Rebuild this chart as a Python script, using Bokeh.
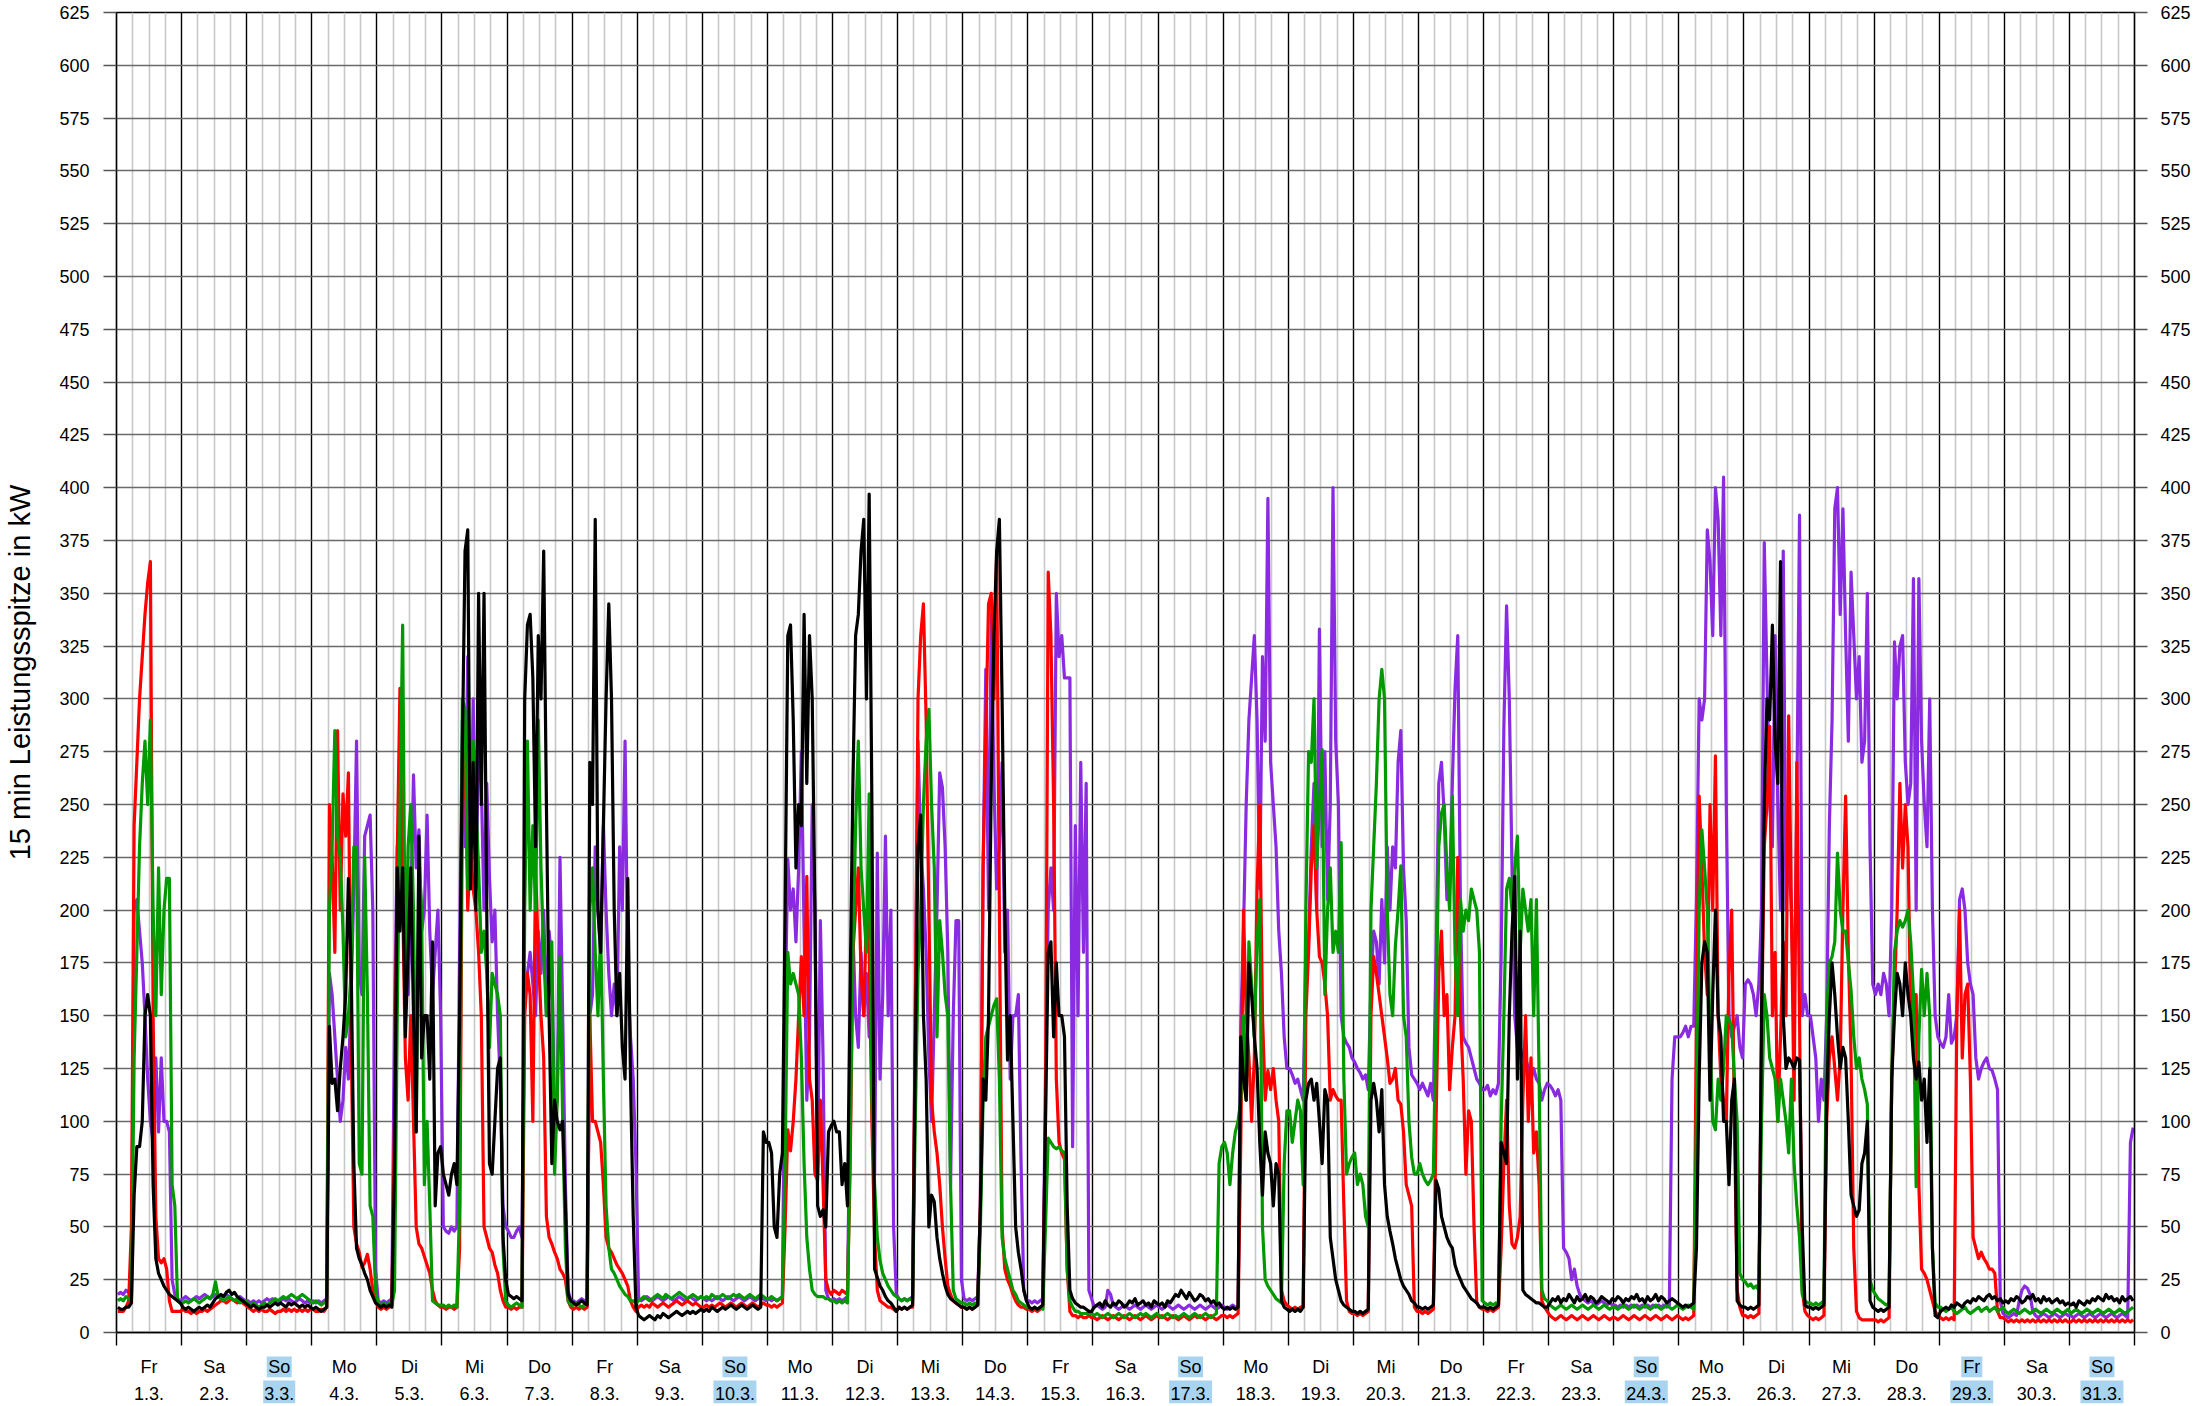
from bokeh.plotting import figure
from bokeh.layouts import column
from bokeh.models import Range1d, FixedTicker, LinearAxis, Grid
from bokeh.core.properties import value
from bokeh.embed import file_html
from bokeh.resources import INLINE

weekdays = ["Fr", "Sa", "So", "Mo", "Di", "Mi", "Do", "Fr", "Sa", "So", "Mo", "Di", "Mi", "Do", "Fr", "Sa",
            "So", "Mo", "Di", "Mi", "Do", "Fr", "Sa", "So", "Mo", "Di", "Mi", "Do", "Fr", "Sa", "So"]
dates = [f"{d}.3." for d in range(1, 32)]
highlighted = [3, 10, 17, 24, 29, 31]
y_ticks = list(range(0, 626, 25))

red_kw = [
    [10,10,10,12,15,50,240,270,300,320,340,355,365,150,55,35,33,35,30,15,10,10,10,10],
    [11,10,10,9,10,9,10,10,11,10,11,12,13,14,15,15,14,15,16,15,14,15,14,13],
    [12,11,10,11,10,11,10,10,11,10,9,10,10,11,10,11,10,11,10,11,10,11,10,11],
    [11,10,10,11,10,12,250,225,180,285,200,255,235,265,140,50,42,38,31,33,37,30,20,15],
    [12,11,12,11,12,13,100,225,305,205,130,110,150,100,50,42,40,36,32,28,20,15,13,12],
    [12,11,12,12,11,12,40,250,280,200,230,210,200,180,150,50,45,40,38,32,28,20,15,12],
    [12,11,12,11,12,12,150,170,160,100,220,180,150,130,55,45,42,38,35,30,28,25,15,12],
    [11,12,11,12,11,12,150,100,100,95,90,70,45,40,38,35,32,30,28,25,22,15,12,10],
    [12,13,12,13,12,14,13,12,13,14,13,12,13,14,15,14,13,14,15,14,13,14,13,12],
    [12,13,12,13,12,13,14,13,12,13,14,13,12,13,14,13,12,13,14,13,12,13,14,13],
    [13,12,13,12,13,14,50,96,86,100,120,150,178,150,216,120,110,75,72,110,70,25,20,18],
    [20,19,18,20,19,18,80,180,200,220,170,150,200,180,100,45,20,15,14,13,12,12,11,10],
    [12,11,12,11,12,12,150,300,330,345,290,200,110,95,85,70,50,35,22,18,15,14,13,12],
    [12,11,12,11,12,13,60,220,285,345,350,300,370,200,50,30,25,22,18,15,13,12,12,11],
    [11,10,11,10,11,12,100,360,330,250,120,90,85,82,30,10,8,8,7,8,7,7,8,7],
    [7,6,7,8,7,6,7,8,7,6,7,8,7,6,7,8,7,6,7,8,7,6,7,8],
    [7,8,7,6,7,8,7,6,7,8,7,6,7,8,7,8,7,6,7,8,7,6,7,8],
    [8,7,8,7,8,9,90,200,150,130,100,130,210,250,150,110,124,115,125,110,100,20,15,13],
    [12,11,12,11,12,12,150,180,220,240,200,178,175,165,150,110,115,112,110,110,60,15,10,9],
    [9,8,9,8,9,10,150,178,170,160,150,140,130,118,120,125,110,108,95,70,65,60,12,10],
    [10,9,10,9,10,11,100,170,190,150,160,115,135,150,225,150,120,75,105,100,50,14,12,11],
    [11,10,11,10,11,12,40,80,110,60,42,40,45,55,110,150,100,130,85,95,70,15,12,10],
    [8,7,6,7,8,7,6,7,8,7,6,7,8,7,6,7,8,7,6,7,8,7,6,7],
    [7,6,7,8,7,6,7,8,7,6,7,8,7,6,7,8,7,6,7,8,7,6,7,8],
    [7,6,7,6,7,8,150,254,220,180,160,250,200,273,150,120,110,100,170,200,100,20,12,8],
    [8,7,8,7,8,9,140,230,250,287,150,180,100,140,185,150,292,200,110,270,150,20,10,8],
    [7,6,7,6,7,8,100,130,140,125,110,130,200,254,180,130,40,10,7,6,6,6,6,6],
    [6,5,6,5,6,7,120,160,200,260,220,250,230,150,150,160,70,30,28,25,20,15,10,8],
    [7,6,7,6,7,6,150,200,130,160,165,120,45,40,35,38,35,33,30,30,28,10,7,7],
    [6,5,6,5,6,5,6,5,6,5,6,5,6,5,6,5,6,5,6,5,6,5,6,5],
    [5,6,5,6,5,6,5,6,5,6,5,6,5,6,5,6,5,6,5,6,5,6,5,6],
]

green_kw = [
    [15,16,15,17,16,15,130,180,230,260,280,250,290,200,150,220,160,200,215,215,70,60,15,14],
    [14,15,14,15,16,15,14,15,16,17,16,18,24,17,16,15,16,17,16,15,16,14,15,15],
    [14,13,14,13,12,13,14,13,14,15,16,15,16,17,16,17,18,17,16,17,18,17,16,15],
    [14,15,14,13,14,15,200,230,285,235,225,190,140,150,170,230,230,80,75,225,160,60,55,20],
    [14,13,14,13,14,13,20,150,245,335,160,230,250,200,95,225,200,70,100,60,15,14,13,13],
    [13,12,13,12,13,12,60,300,295,210,240,280,250,220,180,190,170,135,170,165,160,150,40,15],
    [13,12,13,14,13,12,200,280,200,240,200,290,220,180,150,160,185,75,110,178,100,40,15,13],
    [13,14,13,12,13,14,200,220,180,150,190,120,60,40,30,28,25,22,20,18,17,15,15,14],
    [15,16,17,16,15,16,17,18,17,16,18,17,16,17,18,19,18,17,16,17,18,17,16,17],
    [16,17,16,18,17,16,17,18,17,16,17,18,17,18,17,16,17,18,17,16,17,18,17,16],
    [16,17,16,15,16,17,80,180,165,170,165,160,130,80,45,30,20,18,17,17,17,16,16,15],
    [15,14,15,14,15,14,90,180,240,280,220,200,180,255,110,70,45,34,28,25,22,20,18,17],
    [16,15,16,15,16,15,100,170,200,250,280,295,250,220,140,195,180,160,150,70,20,16,15,14],
    [14,13,14,13,14,13,50,110,140,145,150,155,158,120,45,35,30,25,20,18,15,14,13,12],
    [12,11,12,11,12,11,50,92,90,88,87,88,86,85,30,15,12,10,10,9,9,9,9,9],
    [8,9,8,7,8,9,8,7,8,9,8,7,8,9,8,7,8,9,8,9,8,7,8,9],
    [8,7,8,9,8,7,8,7,8,9,8,7,8,9,8,7,8,9,8,7,8,9,80,88],
    [90,85,70,85,95,100,110,150,110,185,165,140,185,205,50,25,22,20,18,16,15,14,80,105],
    [105,90,100,110,105,70,200,275,270,300,220,250,276,160,200,220,180,190,180,232,120,75,80,83],
    [85,70,75,70,55,50,200,230,260,300,314,300,200,160,150,183,200,221,150,140,100,83,75,75],
    [80,75,72,70,72,75,150,230,246,250,220,200,254,180,150,205,190,200,195,210,205,200,180,15],
    [14,13,14,13,14,13,100,150,210,215,200,220,235,180,210,200,190,205,150,205,120,20,16,15],
    [13,12,11,12,13,12,11,12,13,12,11,12,13,12,11,12,13,12,11,12,13,12,11,12],
    [12,11,12,13,12,11,12,13,12,11,12,13,12,11,12,13,12,11,12,13,12,11,12,13],
    [12,11,12,13,12,11,100,200,238,220,200,140,100,96,120,110,125,150,148,145,120,100,28,25],
    [24,22,23,21,22,20,100,160,150,130,125,120,100,120,110,100,85,120,80,60,45,18,15,14],
    [14,13,14,13,14,15,150,175,178,185,227,200,190,190,175,162,140,125,130,120,115,108,25,20],
    [18,16,15,14,13,14,120,180,190,195,192,195,200,185,160,69,140,172,150,170,150,40,14,12],
    [12,11,10,11,12,10,9,10,11,12,10,9,10,11,12,10,11,12,10,11,12,10,11,12],
    [10,9,10,11,10,9,10,11,10,9,10,11,10,9,10,11,10,9,10,11,10,9,10,11],
    [9,10,11,10,9,10,11,10,9,10,11,10,9,10,11,10,9,10,11,10,9,10,11,12],
]

purple_kw = [
    [18,19,18,20,19,18,200,205,190,175,150,120,100,90,130,95,130,100,100,95,25,18,16,15],
    [16,17,16,15,16,17,16,17,18,17,16,17,18,17,16,17,18,17,16,15,16,17,16,15],
    [15,14,15,14,15,14,15,16,15,16,15,14,15,16,15,16,15,14,15,16,15,14,15,14],
    [15,14,15,14,15,16,170,160,140,120,100,110,135,120,160,210,280,170,160,235,240,245,200,30],
    [15,14,15,14,15,16,150,230,240,200,180,160,200,264,220,238,190,200,245,190,160,180,200,150],
    [50,48,47,50,48,50,180,290,230,320,220,300,210,280,260,200,260,215,185,200,150,118,60,50],
    [48,45,45,48,50,45,160,170,180,165,150,190,170,200,150,190,175,100,110,225,150,70,20,15],
    [15,14,15,16,15,14,150,160,230,200,180,240,200,170,150,165,150,230,200,280,170,140,120,80],
    [16,15,16,17,16,15,16,17,16,15,16,17,16,15,16,17,16,15,16,17,16,15,16,17],
    [16,15,16,15,16,17,16,15,16,17,16,15,16,17,16,15,16,17,16,15,16,17,16,15],
    [16,15,16,15,16,17,150,224,200,210,185,220,275,190,110,140,250,200,75,195,130,20,16,15],
    [16,15,16,15,16,17,120,190,150,135,180,150,170,140,150,75,227,120,160,235,150,200,50,18],
    [16,15,16,15,16,17,150,280,230,210,180,130,100,150,200,265,258,230,180,70,150,195,195,25],
    [16,15,16,15,16,17,60,220,314,200,340,260,210,230,270,180,200,120,150,150,160,80,20,15],
    [15,14,15,14,15,16,120,200,220,200,350,320,330,310,310,310,88,240,150,270,180,260,20,16],
    [12,13,12,11,12,20,18,13,12,11,12,13,12,11,12,13,12,11,12,13,12,11,12,13],
    [12,11,12,13,12,11,12,13,12,11,12,13,12,11,12,13,12,11,12,13,12,11,12,13],
    [12,11,12,13,12,12,145,190,250,290,310,330,290,210,320,280,395,270,250,230,190,170,140,125],
    [125,122,118,120,115,110,180,186,230,260,200,333,230,275,205,250,400,280,250,150,140,137,135,130],
    [128,125,123,120,122,115,165,190,185,165,205,175,230,200,230,220,270,285,220,195,135,122,120,118],
    [115,118,115,112,118,110,178,260,270,245,205,210,260,305,330,200,140,137,135,130,125,120,118,115],
    [115,117,112,115,113,118,178,287,344,300,220,150,135,135,130,130,125,120,125,120,118,110,115,118],
    [117,115,112,115,110,40,38,35,25,30,22,18,16,15,14,15,14,13,14,15,14,13,14,13],
    [13,12,13,12,13,12,13,12,13,12,13,12,13,12,13,12,13,12,13,12,13,120,140,140],
    [140,142,145,140,145,145,205,300,290,300,380,365,330,400,385,330,405,250,150,140,145,150,135,130],
    [165,167,165,160,150,165,200,374,310,250,230,330,250,200,370,200,230,200,150,250,387,150,160,150],
    [150,140,130,100,120,110,150,240,290,390,400,340,390,330,280,360,330,300,320,270,280,350,230,165],
    [160,165,160,170,165,150,200,327,300,325,330,270,250,260,357,200,357,280,250,230,300,200,150,140],
    [137,135,140,160,137,140,150,205,210,200,175,165,160,130,120,125,128,130,125,124,120,115,15,9],
    [8,7,8,9,8,15,20,22,21,18,10,8,7,8,9,8,7,8,9,8,7,8,9,8],
    [8,7,8,9,8,7,8,9,8,7,8,9,8,7,8,9,8,7,8,9,8,7,90,97],
]

black_kw = [
    [12,11,11,12,12,14,65,88,88,100,150,160,150,70,35,28,25,22,20,18,17,16,15,14],
    [12,11,12,11,10,11,12,11,12,13,12,14,16,17,18,17,19,20,18,19,17,16,15,14],
    [13,12,13,12,11,12,12,13,12,13,14,13,14,13,12,14,13,14,13,12,13,12,13,12],
    [11,12,11,10,11,12,145,118,120,105,125,140,160,215,175,80,40,35,32,28,25,20,17,14],
    [13,12,13,12,13,12,80,220,190,220,140,180,220,150,95,235,130,150,150,120,185,60,85,88],
    [75,70,65,75,80,70,150,275,370,380,210,270,200,350,250,350,200,80,75,100,125,130,45,25],
    [18,17,16,17,16,15,300,335,340,310,230,330,300,370,250,150,80,110,100,96,100,60,18,15],
    [14,13,14,15,14,13,270,250,385,200,180,240,300,345,300,200,150,170,135,120,215,120,55,12],
    [8,7,6,7,8,7,6,8,7,9,8,7,8,9,10,9,8,9,10,9,10,9,10,11],
    [10,11,10,12,11,10,11,12,11,12,13,12,11,12,13,12,11,12,13,12,11,12,95,90],
    [90,85,50,45,75,85,200,330,335,290,220,250,240,340,260,330,300,200,60,55,58,50,95,98],
    [100,95,95,70,80,60,165,260,330,340,370,385,300,397,250,30,26,22,20,17,15,14,12,10],
    [12,11,12,11,12,13,130,230,245,150,120,50,65,62,45,35,28,22,18,16,15,14,13,12],
    [12,11,12,11,12,13,60,120,110,150,260,330,370,385,300,200,129,150,100,50,38,30,20,15],
    [12,11,12,11,12,13,100,180,185,140,175,150,150,140,60,20,16,14,13,12,12,11,10,10],
    [12,13,14,12,15,13,12,14,13,15,14,12,13,15,14,16,13,14,15,13,14,12,15,14],
    [13,14,12,15,14,16,18,17,20,18,16,19,17,15,16,18,17,15,16,14,15,13,14,12],
    [11,12,11,12,11,12,140,120,110,175,160,140,125,90,65,95,85,80,60,80,75,15,12,11],
    [10,11,10,11,10,12,110,118,120,110,118,100,80,115,110,45,35,25,20,15,13,12,11,10],
    [10,9,10,9,10,11,110,118,110,95,115,70,55,48,42,35,30,25,22,20,18,15,14,12],
    [12,11,12,11,12,13,72,68,55,50,45,42,40,32,28,25,22,20,18,16,15,14,12,12],
    [12,11,12,11,12,13,90,85,80,150,190,216,120,190,20,18,17,16,15,14,14,13,12,12],
    [14,16,15,17,14,16,15,18,16,14,17,15,16,18,15,17,16,14,15,17,16,15,14,16],
    [15,17,16,14,16,15,17,16,18,15,16,14,17,15,16,18,15,17,16,14,15,16,15,14],
    [13,12,13,12,13,14,40,120,175,185,180,110,160,200,150,140,100,100,70,110,120,15,13,12],
    [12,11,12,11,12,13,150,250,300,290,335,280,260,365,150,125,130,128,125,130,129,50,13,12],
    [12,11,12,11,12,13,110,150,175,160,140,125,135,130,100,65,60,55,58,80,85,100,15,12],
    [11,10,11,10,11,12,120,150,170,165,150,175,160,150,130,120,128,110,120,90,125,40,8,7],
    [10,11,12,11,13,12,14,13,12,14,15,14,16,15,17,16,15,17,18,16,17,15,16,14],
    [15,14,16,15,17,16,14,15,17,16,18,15,16,14,17,15,16,14,15,16,14,15,13,14],
    [13,14,12,15,14,13,15,14,16,15,17,16,15,18,16,17,15,16,14,17,15,16,17,15],
]

series = [
    ("purple", purple_kw, "#8a2be2"),
    ("red", red_kw, "#ff0000"),
    ("green", green_kw, "#009a00"),
    ("black", black_kw, "#000000"),
]

FONT = "Liberation Sans"
W = 2200
LEFT, RIGHT = 116, 66
TOP, BOTTOM = 12, 24
MAIN_H = 1356
x_range = Range1d(0, 31)

p = figure(width=W, height=MAIN_H, x_range=x_range, y_range=Range1d(0, 625),
           x_axis_type=None, y_axis_type=None, output_backend="svg", toolbar_location=None,
           min_border_left=LEFT, min_border_right=RIGHT, min_border_top=TOP, min_border_bottom=BOTTOM)
p.background_fill_color = "white"
p.border_fill_color = "white"
p.outline_line_color = "black"
p.outline_line_width = 1.3

day_ticker = FixedTicker(ticks=list(range(32)),
                         minor_ticks=[d + q / 4 for d in range(31) for q in (1, 2, 3)])
y_ticker = FixedTicker(ticks=y_ticks, minor_ticks=[])

p.add_layout(Grid(dimension=0, ticker=day_ticker, grid_line_color="black", grid_line_width=1.4,
                  minor_grid_line_color="#c8c8c8", minor_grid_line_width=1.6))
p.add_layout(Grid(dimension=1, ticker=y_ticker, grid_line_color="#6a6a6a", grid_line_width=1.3))


def y_axis(label, standoff):
    return LinearAxis(ticker=y_ticker, axis_label=label,
                      major_tick_out=13, major_tick_in=0, minor_tick_out=0, minor_tick_in=0,
                      major_tick_line_color="#555555", major_tick_line_width=1.3,
                      axis_line_color="black", axis_line_width=1.4,
                      major_label_standoff=standoff, major_label_text_font=FONT,
                      major_label_text_font_size="18px", major_label_text_color="black",
                      axis_label_text_font=FONT, axis_label_text_font_size="29px",
                      axis_label_text_font_style="normal", axis_label_text_color="black",
                      axis_label_standoff=20)


p.add_layout(y_axis("15 min Leistungsspitze in kW", 14), "left")
p.add_layout(y_axis("", 13), "right")

x_ax = LinearAxis(ticker=FixedTicker(ticks=list(range(32)), minor_ticks=[]),
                  major_tick_out=13, major_tick_in=0, minor_tick_out=0, minor_tick_in=0,
                  major_tick_line_color="black", major_tick_line_width=1.4,
                  axis_line_color="black", axis_line_width=1.4,
                  major_label_standoff=0, major_label_text_font_size="1px",
                  major_label_text_alpha=0)
p.add_layout(x_ax, "below")

for name, days, color in series:
    xs, ys = [], []
    for d, vals in enumerate(days):
        for h, v in enumerate(vals):
            xs.append(d + (h + 0.5) / 24)
            ys.append(v)
    p.line(x=xs, y=ys, line_color=color, line_width=3.2, line_join="round")

# label strip below the chart (weekday / date)
LH = 48
lab = figure(width=W, height=LH, x_range=x_range, y_range=Range1d(0, LH),
             x_axis_type=None, y_axis_type=None, output_backend="svg", toolbar_location=None,
             min_border_left=LEFT, min_border_right=RIGHT, min_border_top=0, min_border_bottom=0)
lab.outline_line_color = None
lab.background_fill_color = "white"
lab.border_fill_color = "white"

centers = [i + 0.5 for i in range(31)]
hl_x = [centers[i - 1] for i in highlighted]
hl_wd_w = [25 if weekdays[i - 1] == "So" else 21 for i in highlighted]
hl_dt_w = [32 if i < 10 else 43 for i in highlighted]
lab.rect(x=hl_x, y=[LH - 9.8] * len(hl_x), width=hl_wd_w, height=[21.7] * len(hl_x),
         width_units="screen", height_units="screen", fill_color="#a8d4f0", line_color=None)
lab.rect(x=hl_x, y=[LH - 35.3] * len(hl_x), width=hl_dt_w, height=[22.7] * len(hl_x),
         width_units="screen", height_units="screen", fill_color="#a8d4f0", line_color=None)
lab.text(x=centers, y=[LH - 10.7] * 31, text=weekdays, text_align="center",
         text_baseline="middle", text_font=value(FONT), text_font_size="18px", text_color="black")
lab.text(x=centers, y=[LH - 36.5] * 31, text=dates, text_align="center",
         text_baseline="middle", text_font=value(FONT), text_font_size="18px", text_color="black")

layout = column(p, lab, spacing=0)
open("out.html", "w").write(file_html(layout, INLINE))
